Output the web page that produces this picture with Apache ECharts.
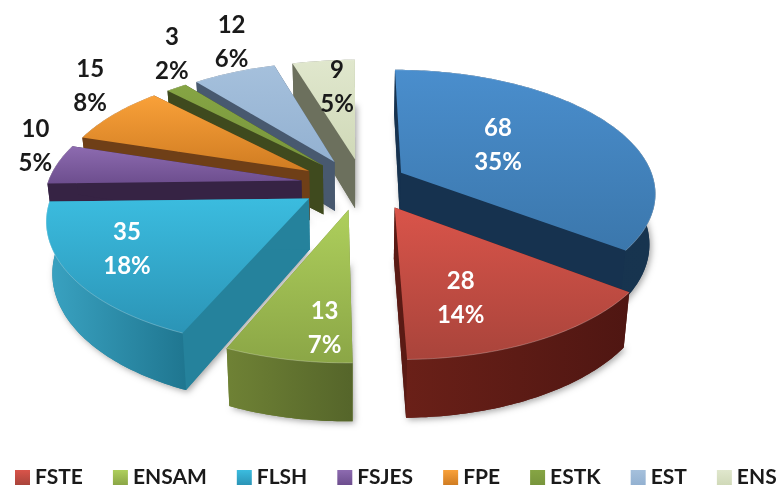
<!DOCTYPE html>
<html>
<head>
<meta charset="utf-8">
<style>
html,body{margin:0;padding:0;background:#fff}
#main{width:783px;height:486px;filter:blur(0.5px)}
</style>
<script src="https://cdn.jsdelivr.net/npm/echarts@6/dist/echarts.min.js"></script>
</head>
<body>
<div id="main"></div>
<script>
// chart data (the first slice has no entry in the legend of the picture)
var sliceNames = ['first','FSTE','ENSAM','FLSH','FSJES','FPE','ESTK','EST','ENS'];
var sliceValues = [68,28,13,35,10,15,3,12,9];
var sliceShares = ['35%','14%','7%','18%','5%','8%','2%','6%','5%'];
var legendNames = ['FSTE','ENSAM','FLSH','FSJES','FPE','ESTK','EST','ENS'];

// colours: top light, top dark, wall light, wall dark, side
var palette = {
  first:['#4a8ecd','#3b77ac','#16324f','#17344f','#16324f'],
  FSTE:['#d9544a','#a9443b','#6a2018','#4f1612','#5a1a14'],
  ENSAM:['#aecf5c','#8ba646','#6f8235','#55652a','#6f8235'],
  FLSH:['#3bbcdf','#2b94b6','#3aa3c2','#1f7690','#25829c'],
  FSJES:['#8d6bb0','#6d4e8e','#362344','#362344','#362344'],
  FPE:['#f9a139','#d07c22','#6f3f17','#6f3f17','#6f3f17'],
  ESTK:['#86a544','#78953c','#3f4a1e','#3f4a1e','#3f4a1e'],
  EST:['#a5c0dc','#93b1d1','#48596f','#48596f','#48596f'],
  ENS:['#e0e7cd','#d0d9b8','#6c705d','#6c705d','#6c705d']
};
var labelColor = {first:'#fff',FSTE:'#fff',ENSAM:'#fff',FLSH:'#fff'};
// label centre relative to the apex of its slice
var labelOffset = {
  first:[97,-27],FSTE:[66,91],ENSAM:[-24,118],FLSH:[-182,51],FSJES:[-266,-34],
  FPE:[-219,-85],ESTK:[-151,-111],EST:[-103,-120],ENS:[-18,-72]
};
// small sideways shift of some slices, in pie radii
var nudge = {FSTE:0.06,ENSAM:0.02,ESTK:0.015,EST:0.02,ENS:0.035};

// perspective of the pie plane
var cx = 354, cy = 184, radX = 254, radY = 121.5, persp = 0.15;
var explode = 0.21, wallH = 50, wallPersp = 0.12, wallLean = 0.02;

var total = sliceValues.reduce(function(a,b){return a+b},0);
var slices = [];
var acc = 0;
sliceValues.forEach(function(v,i){
  var a0 = acc/total*Math.PI*2;
  acc += v;
  var a1 = acc/total*Math.PI*2;
  var mid = (a0+a1)/2;
  slices.push({name:sliceNames[i],value:v,share:sliceShares[i],a0:a0,a1:a1,
    ox:Math.sin(mid)*explode+(nudge[sliceNames[i]]||0),oy:-Math.cos(mid)*explode,back:-Math.cos(mid)});
});

function project(u,v){
  var w = 1-persp*v;
  return [cx+radX*u/w, cy+radY*v/w];
}
function drop(p,v){
  return [p[0]-(p[0]-cx)*wallLean, p[1]+wallH/(1-wallPersp*v)];
}
function rimPoint(s,a){
  var v = s.oy-Math.cos(a);
  var p = project(s.ox+Math.sin(a),v);
  return {top:p,bottom:drop(p,v)};
}
function grad(x2,y2,c0,c1){
  return {type:'linear',x:0,y:0,x2:x2,y2:y2,colorStops:[{offset:0,color:c0},{offset:1,color:c1}]};
}

function renderSlice(s){
  var col = palette[s.name];
  var apex = project(s.ox,s.oy);
  var apexLow = drop(apex,s.oy);
  var rim = [], n = Math.max(4,Math.round((s.a1-s.a0)*60));
  for(var i=0;i<=n;i++) rim.push(rimPoint(s,s.a0+(s.a1-s.a0)*i/n));
  var first = rim[0], last = rim[n];
  var tops = rim.map(function(r){return r.top});
  var lows = rim.map(function(r){return r.bottom});
  var kids = [];
  // soft shadow goes under the whole solid
  kids.push({type:'polygon',shape:{points:[apexLow].concat(lows)},
    style:{fill:col[4],shadowBlur:6,shadowColor:'rgba(0,0,0,0.35)',shadowOffsetX:2,shadowOffsetY:2}});
  kids.push({type:'polygon',shape:{points:[apex,first.top,first.bottom,apexLow]},style:{fill:col[4]}});
  kids.push({type:'polygon',shape:{points:[apex,last.top,last.bottom,apexLow]},style:{fill:col[4]}});
  kids.push({type:'polygon',shape:{points:tops.concat(lows.slice().reverse())},
    style:{fill:grad(1,0,col[2],col[3])}});
  kids.push({type:'polygon',shape:{points:[apex].concat(tops)},
    style:{fill:grad(0,1,col[0],col[1])}});
  kids.push({type:'polyline',shape:{points:tops},
    style:{fill:'none',stroke:'rgba(255,255,255,0.25)',lineWidth:1}});
  var off = labelOffset[s.name];
  var color = labelColor[s.name] || '#1a1a1a';
  kids.push({type:'text',z2:50,style:{text:String(s.value),x:apex[0]+off[0],y:apex[1]+off[1]-17,
    align:'center',verticalAlign:'middle',fill:color,font:'bold 24px Lato'}});
  kids.push({type:'text',z2:50,style:{text:s.share,x:apex[0]+off[0],y:apex[1]+off[1]+17,
    align:'center',verticalAlign:'middle',fill:color,font:'bold 24px Lato'}});
  return {type:'group',children:kids};
}

var order = slices.slice().sort(function(a,b){return a.back-b.back});
var seriesList = order.map(function(s,i){
  return {
    name:s.name,
    type:'custom',
    coordinateSystem:'none',
    z:2+i,
    itemStyle:{color:grad(0,1,palette[s.name][0],palette[s.name][1])},
    data:[[s.value]],
    renderItem:function(){return renderSlice(s)}
  };
});

var chart = echarts.init(document.getElementById('main'));
chart.setOption({
  animation:false,
  backgroundColor:'#fff',
  legend:{
    left:15,
    top:467,
    icon:'rect',
    itemWidth:15,
    itemHeight:15,
    itemGap:30,
    padding:0,
    selectedMode:false,
    data:legendNames,
    textStyle:{color:'#1a1a1a',fontFamily:'Lato',fontWeight:'bold',fontSize:21}
  },
  series:seriesList
});
</script>
</body>
</html>
